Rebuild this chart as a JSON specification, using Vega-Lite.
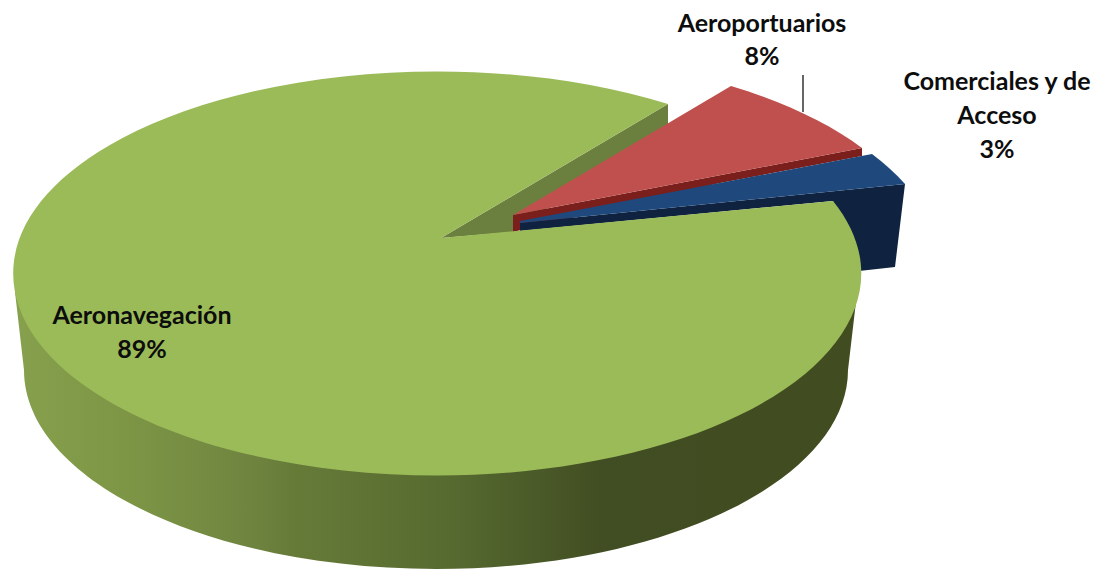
{"$schema":"https://vega.github.io/schema/vega-lite/v6.json","autosize":{"type":"fit","contains":"padding"},"width":1099,"height":569,"padding":0,"background":"#ffffff","config":{"view":{"stroke":null}},
"data":{"values":[{"categoria":"Aeronavegación","porcentaje":89,"etiqueta":"Aeronavegación\n89%"},{"categoria":"Aeroportuarios","porcentaje":8,"etiqueta":"Aeroportuarios\n8%"},{"categoria":"Comerciales y de Acceso","porcentaje":3,"etiqueta":"Comerciales y de\nAcceso\n3%"}]},
"encoding":{"x":{"datum":0,"type":"quantitative","scale":{"domain":[0,1099],"range":[0,1099]},"axis":null},"y":{"datum":0,"type":"quantitative","scale":{"domain":[0,569],"range":[0,569]},"axis":null}},
"layer":[
{"transform":[{"filter":"datum.porcentaje==89"}],"mark":{"type":"point","filled":true,"opacity":1,"size":4,"shape":"M15 292 L24 370 A412 199 0 0 0 848 370 L857 293 Z","fill":{"gradient":"linear","x1":0,"y1":0,"x2":1,"y2":0,"stops":[{"offset":0,"color":"#86a04e"},{"offset":0.13,"color":"#7d9645"},{"offset":0.27,"color":"#708640"},{"offset":0.335,"color":"#667a38"},{"offset":0.52,"color":"#566a30"},{"offset":0.7,"color":"#414d22"},{"offset":1,"color":"#414d20"}]}}},
{"transform":[{"filter":"datum.porcentaje==89"}],"mark":{"type":"point","filled":true,"opacity":1,"size":4,"shape":"M441 238 L668 104 L668 125 L513 232 Z","fill":"#6b803e"}},
{"transform":[{"filter":"datum.porcentaje==8"}],"mark":{"type":"point","filled":true,"opacity":1,"size":4,"shape":"M513 215 L862 148 L862 156 L720 183 L513 232 Z","fill":"#7a1f1c"}},
{"transform":[{"filter":"datum.porcentaje==8"}],"mark":{"type":"point","filled":true,"opacity":1,"size":4,"shape":"M513 215 L731 86 A423 203 0 0 1 862 148 Z","fill":"#c0504d"}},
{"transform":[{"filter":"datum.porcentaje==3"}],"mark":{"type":"point","filled":true,"opacity":1,"size":4,"shape":"M520 223 L905 184 L895 267 L850 272 L833 201 L520 231 Z","fill":"#0f2340"}},
{"transform":[{"filter":"datum.porcentaje==3"}],"mark":{"type":"point","filled":true,"opacity":1,"size":4,"shape":"M520 221 L872 154 A423 203 0 0 1 905 184 L520 223 Z","fill":"#1f497d"}},
{"transform":[{"filter":"datum.porcentaje==89"}],"mark":{"type":"point","filled":true,"opacity":1,"size":4,"shape":"M441 238 L668 104 A424 202 0 1 0 833 201 Z","fill":"#9bbb59"}},
{"transform":[{"filter":"datum.porcentaje==8"}],"mark":{"type":"point","filled":false,"opacity":1,"size":4,"shape":"M803 75 L803 112","stroke":"#333333","strokeWidth":1.5}},
{"transform":[{"filter":"datum.porcentaje==89"}],"mark":{"type":"text","font":"Lato","fontWeight":"bold","fontSize":25,"lineBreak":"\n","lineHeight":34,"align":"center","baseline":"alphabetic","dx":142,"dy":324,"color":"#0d0d0d"},"encoding":{"text":{"field":"etiqueta"}}},
{"transform":[{"filter":"datum.porcentaje==8"}],"mark":{"type":"text","font":"Lato","fontWeight":"bold","fontSize":25,"lineBreak":"\n","lineHeight":33,"align":"center","baseline":"alphabetic","dx":762,"dy":32,"color":"#0d0d0d"},"encoding":{"text":{"field":"etiqueta"}}},
{"transform":[{"filter":"datum.porcentaje==3"}],"mark":{"type":"text","font":"Lato","fontWeight":"bold","fontSize":25,"lineBreak":"\n","lineHeight":34,"align":"center","baseline":"alphabetic","dx":997,"dy":90,"color":"#0d0d0d"},"encoding":{"text":{"field":"etiqueta"}}}
]}
